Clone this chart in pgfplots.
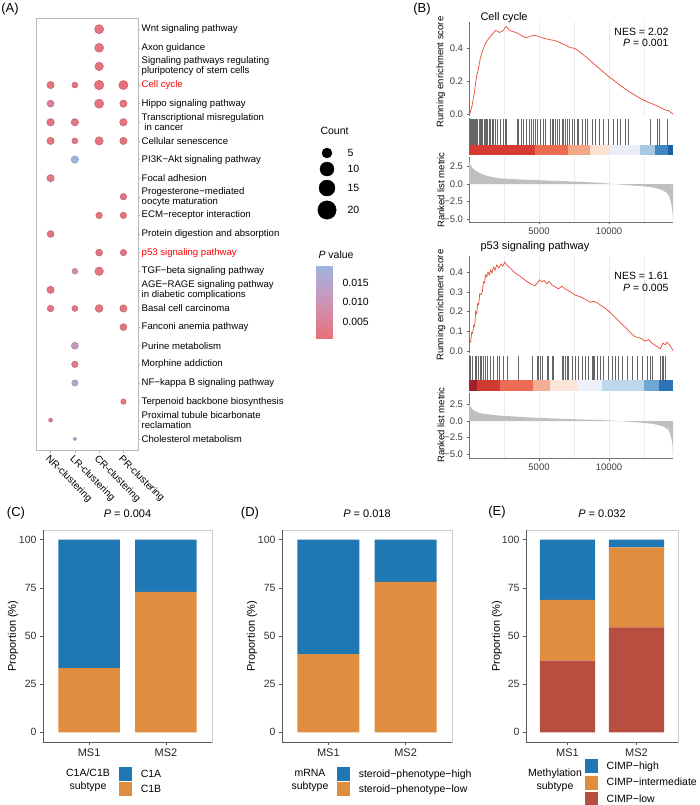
\documentclass[border=0pt]{standalone}
\usepackage{pgfplots}
\pgfplotsset{compat=1.18}
\usepackage{fontspec}
\setmainfont{Liberation Sans}
\newcommand\fs[1]{\fontsize{#1pt}{\dimexpr #1pt*21/20\relax}\selectfont}
\definecolor{cblue}{RGB}{31,119,180}
\definecolor{corange}{RGB}{222,142,62}
\definecolor{cred}{RGB}{184,78,64}
\definecolor{esred}{RGB}{232,72,50}
\definecolor{cbA}{RGB}{215,58,51}
\definecolor{cbB}{RGB}{235,108,80}
\definecolor{cbC}{RGB}{244,166,136}
\definecolor{cbD}{RGB}{252,225,211}
\definecolor{cbE}{RGB}{233,238,248}
\definecolor{cbF}{RGB}{169,201,227}
\definecolor{cbG}{RGB}{66,135,194}
\definecolor{cbH}{RGB}{30,95,166}
\definecolor{cdA}{RGB}{165,30,44}
\definecolor{cdB}{RGB}{207,58,51}
\definecolor{cdC}{RGB}{235,108,82}
\definecolor{cdD}{RGB}{245,174,147}
\definecolor{cdE}{RGB}{252,228,216}
\definecolor{cdF}{RGB}{237,241,250}
\definecolor{cdG}{RGB}{189,215,235}
\definecolor{cdH}{RGB}{111,167,211}
\definecolor{cdI}{RGB}{45,116,180}
\pgfplotsset{
  /pgf/number format/assume math mode=true,
  gsea/.style={scale only axis, width=204pt, xmin=0, xmax=14570, scaled x ticks=false,
    ticklabel style={font=\fs{9.5}, text=black!75},
    tick style={black!60, line width=0.5pt}, major tick length=2.5pt, tick align=outside,
    axis line style={-, black!55, line width=0.6pt}},
  barax/.style={scale only axis, height=212pt, ymin=-5, ymax=105, xmin=0.4, xmax=2.6,
    ybar stacked, bar width=0.8, xtick={1,2}, xticklabels={MS1,MS2},
    ytick={0,25,50,75,100}, yticklabels={0,25,50,75,100},
    xtick pos=bottom, ytick pos=left, tick align=outside, major tick length=3pt,
    tick style={black!65, line width=0.5pt}, axis line style={gray!40, line width=0.6pt},
    xticklabel style={font=\fs{11}, text=black!85},
    yticklabel style={font=\fs{10.5}, text=black!80},
    ylabel={Proportion (\%)}, ylabel style={font=\fs{11}, anchor=center},
    title style={font=\fs{11}, anchor=south, at={(0.5,1)}, yshift=3pt},
    legend style={draw=none, fill=none, font=\fs{10.5}, anchor=north west, inner sep=0pt,
      nodes={inner sep=0.5pt}, row sep=1pt},
    legend cell align=left,
    legend image code/.code={\path[##1, draw=none] (0pt,-7pt) rectangle (13pt,7pt); \path (21pt,0pt);},
    reverse legend,
    after end axis/.code={\draw[black!65, line width=0.7pt] (rel axis cs:0,1) -- (rel axis cs:0,0) -- (rel axis cs:1,0);}},
}
\begin{document}
\begin{tikzpicture}
\useasboundingbox (0pt,0pt) rectangle (700pt,-805pt);

% ---------------- Panel A ----------------
\begin{axis}[at={(36pt,-18pt)}, anchor=north west, scale only axis, width=102pt, height=432pt,
  xmin=0.4, xmax=4.6, ymin=0.4, ymax=23.6, y dir=reverse,
  axis line style={gray!55, line width=0.7pt},
  xtick={1,2,3,4}, xticklabels={NR-clustering,LR-clustering,CR-clustering,PR-clustering},
  xticklabel style={rotate=-45, anchor=north west, font=\fs{10}, inner sep=1pt},
  ytick={1,...,23}, ytick pos=right, yticklabel pos=right, xtick pos=bottom,
  tick align=outside, major tick length=2.5pt, tick style={gray!60, line width=0.5pt},
  yticklabel style={align=left, font=\fontsize{9.6pt}{10pt}\selectfont, inner sep=1pt},
  yticklabels={Wnt signaling pathway, Axon guidance, {Signaling pathways regulating\\pluripotency of stem cells}, \textcolor{red}{Cell cycle}, Hippo signaling pathway, {Transcriptional misregulation\\\hspace*{2.7pt}in cancer}, Cellular senescence, PI3K−Akt signaling pathway, Focal adhesion, {Progesterone−mediated\\oocyte maturation}, ECM−receptor interaction, Protein digestion and absorption, \textcolor{red}{p53 signaling pathway}, TGF−beta signaling pathway, {AGE−RAGE signaling pathway\\in diabetic complications}, Basal cell carcinoma, Fanconi anemia pathway, Purine metabolism, Morphine addiction, NF−kappa B signaling pathway, Terpenoid backbone biosynthesis, {Proximal tubule bicarbonate\\reclamation}, Cholesterol metabolism},
  colormap={pv}{rgb255=(233,112,121) rgb255=(205,148,182) rgb255=(160,180,226)},
  point meta min=0.001, point meta max=0.019, clip=false]
\addplot[scatter, only marks, mark=*, point meta=explicit,
  visualization depends on={\thisrow{r}\as\rr},
  scatter/@pre marker code/.append style={/tikz/mark size=\rr pt}]
  table[x=x, y=y, meta=p] {
x y r p
3 1 4.6 0.002
3 2 4.5 0.002
3 3 4.3 0.002
1 4 3.7 0.002
2 4 3.0 0.002
3 4 4.8 0.001
4 4 4.6 0.001
1 5 3.5 0.005
3 5 4.6 0.002
4 5 3.7 0.002
1 6 3.8 0.002
2 6 3.7 0.002
4 6 3.8 0.002
1 7 3.7 0.002
2 7 3.0 0.003
3 7 4.2 0.002
4 7 3.7 0.002
2 8 3.7 0.019
1 9 3.7 0.003
4 10 3.3 0.002
3 11 3.3 0.002
4 11 3.3 0.002
1 12 3.5 0.002
3 13 3.5 0.002
4 13 3.2 0.002
2 14 2.9 0.009
3 14 4.3 0.002
1 15 3.7 0.002
1 16 3.3 0.002
2 16 3.0 0.002
3 16 3.9 0.002
4 16 3.7 0.002
4 17 3.5 0.002
2 18 3.5 0.011
2 19 3.3 0.003
2 20 3.1 0.015
4 21 2.7 0.002
1 22 2.0 0.003
2 23 1.8 0.016
};
\end{axis}

% Count legend
\begin{axis}[at={(300pt,-140pt)}, anchor=north west, scale only axis, width=60pt, height=80pt,
  xmin=0, xmax=60, ymin=0, ymax=80, y dir=reverse, hide axis, clip=false]
\addplot[scatter, only marks, mark=*, point meta=explicit,
  scatter/use mapped color={draw=black, fill=black},
  visualization depends on={\thisrow{r}\as\rr},
  scatter/@pre marker code/.append style={/tikz/mark size=\rr pt}]
  table[x=x, y=y, meta=r] {
x y r
27 13 5
27 29 7
27 48 8
27 70 9.2
};
\end{axis}
\node[anchor=west, font=\fs{10.5}] at (317pt,-131pt) {Count};
\node[anchor=west, font=\fs{10.5}] at (344pt,-153pt) {5};
\node[anchor=west, font=\fs{10.5}] at (344pt,-169pt) {10};
\node[anchor=west, font=\fs{10.5}] at (344pt,-188pt) {15};
\node[anchor=west, font=\fs{10.5}] at (344pt,-210pt) {20};

% P value colour bar
\begin{axis}[at={(316pt,-266pt)}, anchor=north west, scale only axis, width=16pt, height=72pt,
  xmin=0, xmax=1, ymin=0.0009, ymax=0.0194, hide axis,
  colormap={pv}{rgb255=(233,112,121) rgb255=(205,148,182) rgb255=(160,180,226)},
  point meta min=0.001, point meta max=0.019]
\addplot[surf, shader=interp, point meta=y] coordinates {
(0,0.0009) (1,0.0009)

(0,0.0194) (1,0.0194)
};
\end{axis}
\node[anchor=west, font=\fs{10.5}] at (315pt,-255pt) {\textit{P} value};
\node[anchor=west, font=\fs{10.5}] at (339pt,-283pt) {0.015};
\node[anchor=west, font=\fs{10.5}] at (339pt,-302pt) {0.010};
\node[anchor=west, font=\fs{10.5}] at (339pt,-322pt) {0.005};

% ---------------- Panel B : Cell cycle ----------------
\begin{axis}[gsea, at={(469pt,-22pt)}, anchor=north west, height=94pt, ymin=-0.01, ymax=0.557,
  axis x line=none, axis y line*=left, ytick={0,0.2,0.4}, yticklabels={0.0,0.2,0.4}]
\pgfplotsinvokeforeach{2500,5000,7500,10000,12500}{\draw[black!8, line width=0.5pt] (axis cs:#1,-0.01) -- (axis cs:#1,0.557);}
\addplot[esred, line width=0.7pt, mark=none] coordinates {
(0,0) (72,0.006) (143,0.03) (215,0.05) (286,0.086) (358,0.116) (429,0.162) (501,0.206) (572,0.242) (644,0.262) (716,0.296) (787,0.33) (882,0.362) (978,0.382) (1073,0.406) (1193,0.43) (1312,0.446) (1455,0.462) (1598,0.478) (1741,0.49) (1884,0.506) (2027,0.502) (2170,0.494) (2313,0.5) (2457,0.506) (2600,0.526) (2695,0.53) (2838,0.51) (3029,0.502) (3267,0.496) (3554,0.486) (3840,0.47) (4078,0.462) (4365,0.47) (4651,0.478) (4937,0.47) (5223,0.462) (5509,0.456) (5796,0.45) (6082,0.446) (6368,0.438) (6654,0.426) (6940,0.416) (7227,0.402) (7465,0.4) (7704,0.39) (8061,0.366) (8419,0.342) (8896,0.306) (9373,0.272) (9850,0.236) (10327,0.206) (10804,0.174) (11281,0.146) (11758,0.12) (12235,0.096) (12712,0.076) (13189,0.06) (13666,0.042) (14024,0.026) (14262,0.022) (14429,0.01) (14570,0.002)};
\end{axis}
\begin{axis}[gsea, at={(469pt,-118pt)}, anchor=north west, height=37pt, ymin=0, ymax=1,
  axis x line=none, axis y line*=left, ytick=\empty]
\addplot[ycomb, black!60, line width=0.45pt, mark=none] coordinates {
(72,0.97) (143,0.97) (215,0.97) (286,0.97) (358,0.97) (453,0.97) (525,0.97) (620,0.97) (716,0.97) (787,0.97) (882,0.97) (978,0.97) (1073,0.97) (1169,0.97) (1240,0.97) (1312,0.97) (1431,0.97) (1550,0.97) (1646,0.97) (1741,0.97) (1860,0.97) (1980,0.97) (2218,0.97) (2409,0.97) (2552,0.97) (2648,0.97) (3411,0.97) (3530,0.97) (3697,0.97) (3888,0.97) (4078,0.97) (4317,0.97) (4412,0.97) (4603,0.97) (4722,0.97) (4889,0.97) (5080,0.97) (5271,0.97) (5438,0.97) (5796,0.97) (5915,0.97) (6034,0.97) (6153,0.97) (6273,0.97) (6463,0.97) (6630,0.97) (6750,0.97) (6869,0.97) (6988,0.97) (7179,0.97) (7346,0.97) (7513,0.97) (7704,0.97) (7823,0.97) (8061,0.97) (8300,0.97) (8419,0.97) (8777,0.97) (9015,0.97) (9325,0.97) (9611,0.97) (9969,0.97) (10327,0.97) (10566,0.97) (10804,0.97) (11162,0.97) (11400,0.97) (12950,0.97) (13428,0.97) (13619,0.97) (14143,0.97)};
\addplot[fill=cbA, draw=none] coordinates {(0,0.27) (4714,0.27)} \closedcycle;
\addplot[fill=cbB, draw=none] coordinates {(4714,0.27) (7070,0.27)} \closedcycle;
\addplot[fill=cbC, draw=none] coordinates {(7070,0.27) (8640,0.27)} \closedcycle;
\addplot[fill=cbD, draw=none] coordinates {(8640,0.27) (10070,0.27)} \closedcycle;
\addplot[fill=cbE, draw=none] coordinates {(10070,0.27) (12210,0.27)} \closedcycle;
\addplot[fill=cbF, draw=none] coordinates {(12210,0.27) (13280,0.27)} \closedcycle;
\addplot[fill=cbG, draw=none] coordinates {(13280,0.27) (14210,0.27)} \closedcycle;
\addplot[fill=cbH, draw=none] coordinates {(14210,0.27) (14570,0.27)} \closedcycle;
\end{axis}
\begin{axis}[gsea, at={(469pt,-157pt)}, anchor=north west, height=65pt, ymin=-5.37, ymax=3.82,
  axis x line*=bottom, axis y line*=left, xtick={5000,10000}, xticklabels={5000,10000},
  ytick={-5,-2.5,0,2.5}, yticklabels={−5.0,−2.5,0.0,2.5}]
\pgfplotsinvokeforeach{2500,5000,7500,10000,12500}{\draw[black!8, line width=0.5pt] (axis cs:#1,-5.37) -- (axis cs:#1,3.82);}
\addplot[fill=gray!50, draw=none, mark=none] coordinates {
(0,3.6) (30,3.1) (80,2.8) (190,2.45) (350,2.05) (549,1.8) (800,1.5) (1190,1.2) (1600,1.0) (2140,0.82) (3000,0.7) (4520,0.58) (5500,0.5) (6900,0.4) (8000,0.3) (9290,0.18) (10240,0.02) (10800,-0.08) (11500,-0.18) (12300,-0.3) (13000,-0.45) (13500,-0.65) (13900,-0.95) (14150,-1.3) (14300,-1.8) (14400,-2.4) (14480,-3.2) (14540,-4.2) (14570,-5.2)} \closedcycle;
\end{axis}

% ---------------- Panel B : p53 ----------------
\begin{axis}[gsea, at={(469pt,-256pt)}, anchor=north west, height=97pt, ymin=-0.01, ymax=0.481,
  axis x line=none, axis y line*=left, ytick={0,0.1,0.2,0.3,0.4}, yticklabels={0.0,0.1,0.2,0.3,0.4}]
\pgfplotsinvokeforeach{2500,5000,7500,10000,12500}{\draw[black!8, line width=0.5pt] (axis cs:#1,-0.01) -- (axis cs:#1,0.481);}
\addplot[esred, line width=0.7pt, mark=none] coordinates {
(0,0) (48,0.05) (119,0.045) (191,0.095) (262,0.09) (334,0.13) (405,0.125) (477,0.2) (549,0.19) (620,0.24) (692,0.235) (763,0.29) (859,0.285) (954,0.30) (1026,0.35) (1121,0.345) (1169,0.385) (1264,0.375) (1359,0.40) (1455,0.385) (1550,0.41) (1646,0.395) (1741,0.425) (1860,0.41) (1980,0.435) (2123,0.42) (2266,0.44) (2409,0.43) (2552,0.45) (2695,0.435) (2934,0.42) (3291,0.395) (3649,0.378) (4126,0.353) (4484,0.337) (4722,0.33) (4889,0.345) (5032,0.36) (5199,0.35) (5366,0.357) (5557,0.34) (5724,0.352) (5915,0.335) (6153,0.325) (6392,0.315) (6630,0.328) (6869,0.315) (7227,0.3) (7584,0.283) (7942,0.275) (8300,0.262) (8658,0.247) (8896,0.252) (9135,0.245) (9492,0.228) (9850,0.21) (10327,0.178) (10804,0.145) (11281,0.112) (11639,0.085) (11877,0.072) (12235,0.065) (12593,0.05) (12831,0.058) (13070,0.04) (13380,0.025) (13666,0.012) (13857,0.04) (14024,0.032) (14143,0.045) (14381,0.025) (14570,0.003)};
\end{axis}
\begin{axis}[gsea, at={(469pt,-355pt)}, anchor=north west, height=36pt, ymin=0, ymax=1,
  axis x line=none, axis y line*=left, ytick=\empty]
\addplot[ycomb, black!60, line width=0.45pt, mark=none] coordinates {
(30,0.97) (119,0.97) (262,0.97) (429,0.97) (549,0.97) (668,0.97) (787,0.97) (906,0.97) (1026,0.97) (1145,0.97) (1312,0.97) (1503,0.97) (1741,0.97) (1980,0.97) (2170,0.97) (2457,0.97) (2695,0.97) (3530,0.97) (4484,0.97) (4842,0.97) (4961,0.97) (5080,0.97) (5199,0.97) (5557,0.97) (5676,0.97) (5915,0.97) (6034,0.97) (6630,0.97) (6750,0.97) (6869,0.97) (6988,0.97) (7107,0.97) (7346,0.97) (7584,0.97) (7823,0.97) (8061,0.97) (8300,0.97) (8538,0.97) (8777,0.97) (8848,0.97) (8896,0.97) (8944,0.97) (9135,0.97) (9373,0.97) (9611,0.97) (9969,0.97) (10208,0.97) (10446,0.97) (10685,0.97) (10923,0.97) (11281,0.97) (11639,0.97) (11996,0.97) (12354,0.97) (12712,0.97) (12950,0.97) (13070,0.97) (13666,0.97) (13786,0.97) (13905,0.97) (14024,0.97)};
\addplot[fill=cdA, draw=none] coordinates {(0,0.3) (549,0.3)} \closedcycle;
\addplot[fill=cdB, draw=none] coordinates {(549,0.3) (2218,0.3)} \closedcycle;
\addplot[fill=cdC, draw=none] coordinates {(2218,0.3) (4603,0.3)} \closedcycle;
\addplot[fill=cdD, draw=none] coordinates {(4603,0.3) (5796,0.3)} \closedcycle;
\addplot[fill=cdE, draw=none] coordinates {(5796,0.3) (7704,0.3)} \closedcycle;
\addplot[fill=cdF, draw=none] coordinates {(7704,0.3) (9492,0.3)} \closedcycle;
\addplot[fill=cdG, draw=none] coordinates {(9492,0.3) (12474,0.3)} \closedcycle;
\addplot[fill=cdH, draw=none] coordinates {(12474,0.3) (13547,0.3)} \closedcycle;
\addplot[fill=cdI, draw=none] coordinates {(13547,0.3) (14570,0.3)} \closedcycle;
\end{axis}
\begin{axis}[gsea, at={(469pt,-393pt)}, anchor=north west, height=65pt, ymin=-5.55, ymax=4.2,
  axis x line*=bottom, axis y line*=left, xtick={5000,10000}, xticklabels={5000,10000},
  ytick={-5,-2.5,0,2.5}, yticklabels={−5.0,−2.5,0.0,2.5}]
\pgfplotsinvokeforeach{2500,5000,7500,10000,12500}{\draw[black!8, line width=0.5pt] (axis cs:#1,-5.55) -- (axis cs:#1,4.2);}
\addplot[fill=gray!50, draw=none, mark=none] coordinates {
(0,2.9) (40,2.5) (120,2.1) (300,1.65) (600,1.3) (1000,1.1) (2200,0.8) (4600,0.5) (7000,0.3) (9400,0.15) (10600,0) (11800,-0.15) (13200,-0.45) (13900,-0.85) (14260,-1.35) (14430,-2.35) (14530,-3.5) (14570,-5.3)} \closedcycle;
\end{axis}

\node[anchor=west, font=\fs{11}] at (477pt,-18pt) {Cell cycle};
\node[anchor=east, font=\fs{10.5}] at (672pt,-32pt) {NES = 2.02};
\node[anchor=east, font=\fs{10.5}] at (672pt,-43pt) {\textit{P} = 0.001};
\node[anchor=west, font=\fs{11}] at (477pt,-247pt) {p53 signaling pathway};
\node[anchor=east, font=\fs{10.5}] at (672pt,-276pt) {NES = 1.61};
\node[anchor=east, font=\fs{10.5}] at (672pt,-288pt) {\textit{P} = 0.005};
\node[rotate=90, font=\fs{9.5}] at (441pt,-72pt) {Running enrichment score};
\node[rotate=90, font=\fs{9.5}] at (441pt,-190pt) {Ranked list metric};
\node[rotate=90, font=\fs{9.5}] at (441pt,-305pt) {Running enrichment score};
\node[rotate=90, font=\fs{9.5}] at (441pt,-425pt) {Ranked list metric};

% ---------------- Panel C ----------------
\begin{axis}[barax, at={(43pt,-530pt)}, anchor=north west, width=169pt,
  title={\textit{P} = 0.004}, ylabel style={at={(axis description cs:-0.178,0.5)}},
  legend style={at={(axis description cs:0.45,-0.118)}}]
\addplot[fill=corange, draw=none] coordinates {(1,33.3) (2,72.9)};
\addplot[fill=cblue, draw=none] coordinates {(1,66.7) (2,27.1)};
\legend{C1B, C1A}
\end{axis}
\node[align=center, font=\fontsize{10.5pt}{13pt}\selectfont] at (88pt,-780pt) {C1A/C1B\\subtype};

% ---------------- Panel D ----------------
\begin{axis}[barax, at={(282pt,-530pt)}, anchor=north west, width=170pt,
  title={\textit{P} = 0.018}, ylabel style={at={(axis description cs:-0.176,0.5)}},
  legend style={at={(axis description cs:0.324,-0.118)}}]
\addplot[fill=corange, draw=none] coordinates {(1,40.6) (2,78.1)};
\addplot[fill=cblue, draw=none] coordinates {(1,59.4) (2,21.9)};
\legend{steroid−phenotype−low, steroid−phenotype−high}
\end{axis}
\node[align=center, font=\fontsize{10.5pt}{13pt}\selectfont] at (310pt,-780pt) {mRNA\\subtype};

% ---------------- Panel E ----------------
\begin{axis}[barax, at={(526pt,-530pt)}, anchor=north west, width=152pt,
  title={\textit{P} = 0.032}, ylabel style={at={(axis description cs:-0.19,0.5)}},
  legend style={at={(axis description cs:0.388,-0.08)}, row sep=2.5pt}]
\addplot[fill=cred, draw=none] coordinates {(1,37.2) (2,54.5)};
\addplot[fill=corange, draw=none] coordinates {(1,31.5) (2,41.5)};
\addplot[fill=cblue, draw=none] coordinates {(1,31.3) (2,4.0)};
\legend{CIMP−low, CIMP−intermediate, CIMP−high}
\end{axis}
\node[align=center, font=\fontsize{10.5pt}{13pt}\selectfont] at (555pt,-780pt) {Methylation\\subtype};

% panel letters
\node[font=\fs{13}] at (10pt,-9pt) {(A)};
\node[font=\fs{13}] at (422pt,-9pt) {(B)};
\node[font=\fs{13}] at (16pt,-513pt) {(C)};
\node[font=\fs{13}] at (250pt,-513pt) {(D)};
\node[font=\fs{13}] at (497pt,-512pt) {(E)};
\end{tikzpicture}
\end{document}
